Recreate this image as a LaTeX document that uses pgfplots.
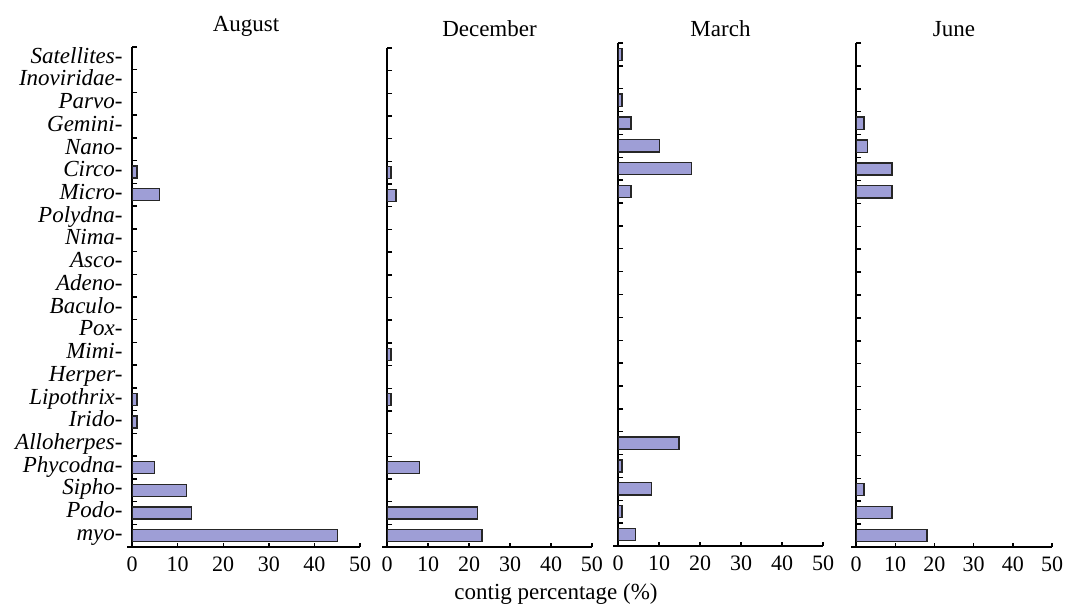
\documentclass[border=0pt]{standalone}
\usepackage{pgfplots}
\pgfplotsset{compat=1.18}
\usepackage{fontspec}
\setmainfont{Liberation Serif}
\definecolor{barfill}{RGB}{158,158,214}
\pgfplotsset{
  barstyle/.style={fill=barfill, draw=black!85, line width=0.65pt, bar shift=0pt},
  panel/.style={
    scale only axis,
    anchor=south west,
    xmin=0, xmax=50, ymin=-0.5, ymax=21.5,
    xtick={0,10,...,50},
    ytick={0,...,21},
    yticklabels={},
    minor ytick={-0.5,0.5,...,21.5},
    axis x line*=bottom,
    axis y line*=left,
    tick align=inside,
    major tick length=2pt,
    minor tick length=-2.5pt,
    major y tick style={draw=none},
    every tick/.append style={line width=0.7pt, black},
    minor tick style={line width=0.7pt, black},
    axis line style={line width=0.7pt},
    x axis line style={shorten <=-2.5pt},
    /pgf/number format/assume math mode=true,
    xticklabel style={font=\fontsize{11}{13}\selectfont, yshift=-1.6pt},
    yticklabel style={font=\fontsize{11.5}{13}\selectfont\itshape, xshift=0.8pt,
      text height=0.68em, text depth=0.2em, inner ysep=0pt},
    title style={font=\fontsize{11.5}{13}\selectfont, at={(0.5,1)}, anchor=base},
    xbar, bar width=0.53,
  }
}
\begin{document}
\begin{tikzpicture}
\useasboundingbox (0,0) rectangle (534.5pt,303pt);
% August
\begin{axis}[panel, at={(66pt,29.5pt)}, width=114pt, height=250pt,
  title={August}, title style={yshift=2pt},
  yticklabels={myo-,Podo-,Sipho-,Phycodna-,Alloherpes-,Irido-,Lipothrix-,Herper-,Mimi-,Pox-,Baculo-,Adeno-,Asco-,Nima-,Polydna-,Micro-,Circo-,Nano-,Gemini-,Parvo-,Inoviridae-,Satellites-}]
\addplot[barstyle] coordinates {(45,0) (13.1,1) (12,2) (5,3) (1.1,5) (1.1,6) (6.1,15) (1.1,16)};
\end{axis}
% December
\begin{axis}[panel, at={(193.5pt,29.5pt)}, width=102.5pt, height=249.5pt,
  title={December}, title style={yshift=0pt}]
\addplot[barstyle] coordinates {(23.2,0) (22,1) (8,3) (1,6) (1,8) (2.2,15) (1,16)};
\end{axis}
\node[font=\fontsize{11.5}{13}\selectfont, anchor=base] at (278pt,3.5pt) {contig percentage (\%)};
% March
\begin{axis}[panel, at={(309pt,30pt)}, width=102.5pt, height=251.5pt,
  title={March}, title style={yshift=-2.5pt}]
\addplot[barstyle] coordinates {(4.2,0) (1,1) (8.2,2) (1,3) (14.9,4) (3.2,15) (18,16) (10.2,17) (3.2,18) (1,19) (1,21)};
\end{axis}
% June
\begin{axis}[panel, at={(428pt,29.5pt)}, width=98pt, height=252pt,
  title={June}, title style={yshift=-2.5pt}]
\addplot[barstyle] coordinates {(18.1,0) (9.2,1) (2,2) (9.2,15) (9.2,16) (3,17) (2,18)};
\end{axis}
\end{tikzpicture}
\end{document}
